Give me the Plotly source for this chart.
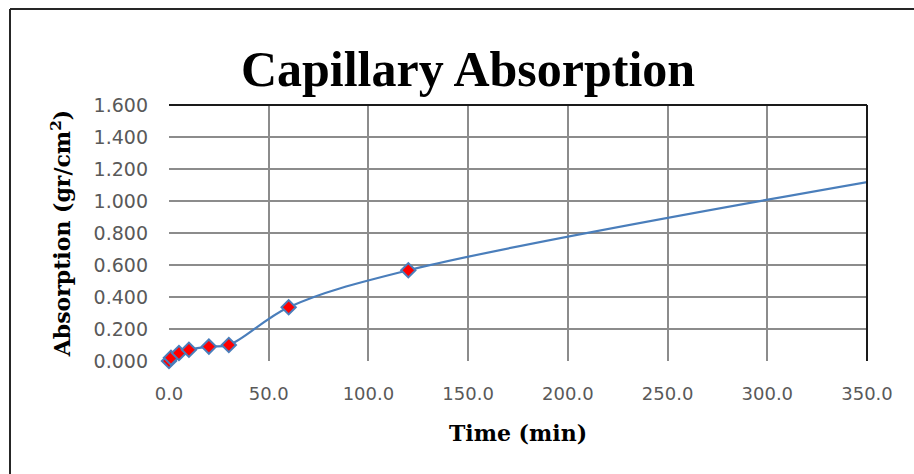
import plotly.graph_objects as go

# Measured capillary absorption over time
time_min = [0, 1, 5, 10, 20, 30, 60, 120]
absorption = [0.000, 0.020, 0.050, 0.070, 0.090, 0.100, 0.336, 0.567]

# Next reading lies just past the plotted time window; the curve runs through it
tail_time = [360]
tail_absorption = [1.140]

x_ticks = [0, 50, 100, 150, 200, 250, 300, 350]
y_ticks = [0.0, 0.2, 0.4, 0.6, 0.8, 1.0, 1.2, 1.4, 1.6]

LINE_BLUE = "#4A7EBB"
GRID = "#8C8C8C"
TICK_GREY = "#595959"

fig = go.Figure()

fig.add_trace(go.Scatter(
    x=time_min + tail_time,
    y=absorption + tail_absorption,
    mode="lines",
    line=dict(color=LINE_BLUE, width=2.2, shape="spline", smoothing=1.0),
    hoverinfo="skip",
    showlegend=False,
))

fig.add_trace(go.Scatter(
    x=time_min,
    y=absorption,
    mode="markers",
    marker=dict(symbol="diamond", size=11, color="#FF0000",
                line=dict(color=LINE_BLUE, width=2)),
    cliponaxis=False,
    showlegend=False,
))

# plot-area geometry in pixels (for frame shapes)
L, R, T, B = 169, 47, 105, 113
W, H = 914, 474
pw, ph = W - L - R, H - T - B


def px_x(px):
    return (px - L) / pw


def px_y(py):
    return (H - B - py) / ph


shapes = [
    # dark top and right edges of the plot area
    dict(type="line", xref="paper", yref="paper", x0=0, x1=1, y0=1, y1=1,
         line=dict(color="#1A1A1A", width=2)),
    dict(type="line", xref="paper", yref="paper", x0=1, x1=1, y0=0, y1=1,
         line=dict(color="#1A1A1A", width=2)),
    # outer chart frame (top and left)
    dict(type="line", xref="paper", yref="paper", x0=px_x(10), x1=px_x(916),
         y0=px_y(9), y1=px_y(9), line=dict(color="#262626", width=2)),
    dict(type="line", xref="paper", yref="paper", x0=px_x(10), x1=px_x(10),
         y0=px_y(9), y1=px_y(476), line=dict(color="#262626", width=2)),
]

fig.update_layout(
    width=W, height=H,
    margin=dict(l=L, r=R, t=T, b=B),
    paper_bgcolor="white",
    plot_bgcolor="white",
    title=dict(
        text="<b>Capillary Absorption</b>",
        x=468 / W, xref="container", xanchor="center",
        y=1 - 68 / H, yref="container", yanchor="middle",
        font=dict(family="Liberation Serif", size=50, color="black"),
    ),
    shapes=shapes,
    xaxis=dict(
        range=[0, 350],
        tickvals=x_ticks,
        tickformat=".1f",
        showgrid=True, gridcolor=GRID, gridwidth=1.5,
        zeroline=False, showline=False,
        ticks="", ticklabelstandoff=20,
        tickfont=dict(family="DejaVu Sans", size=18, color=TICK_GREY),
        title=dict(text="<b>Time (min)</b>", standoff=22,
                   font=dict(family="DejaVu Serif", size=22, color="black")),
    ),
    yaxis=dict(
        range=[0, 1.6],
        tickvals=y_ticks,
        tickformat=".3f",
        showgrid=True, gridcolor=GRID, gridwidth=1.5,
        zeroline=False, showline=False,
        ticks="", ticklabelstandoff=20,
        tickfont=dict(family="DejaVu Sans", size=19, color=TICK_GREY),
        title=dict(text="<b>Absorption (gr/cm<sup>2</sup>)</b>", standoff=16,
                   font=dict(family="DejaVu Serif", size=22, color="black")),
    ),
)

fig.write_html("out.html")
